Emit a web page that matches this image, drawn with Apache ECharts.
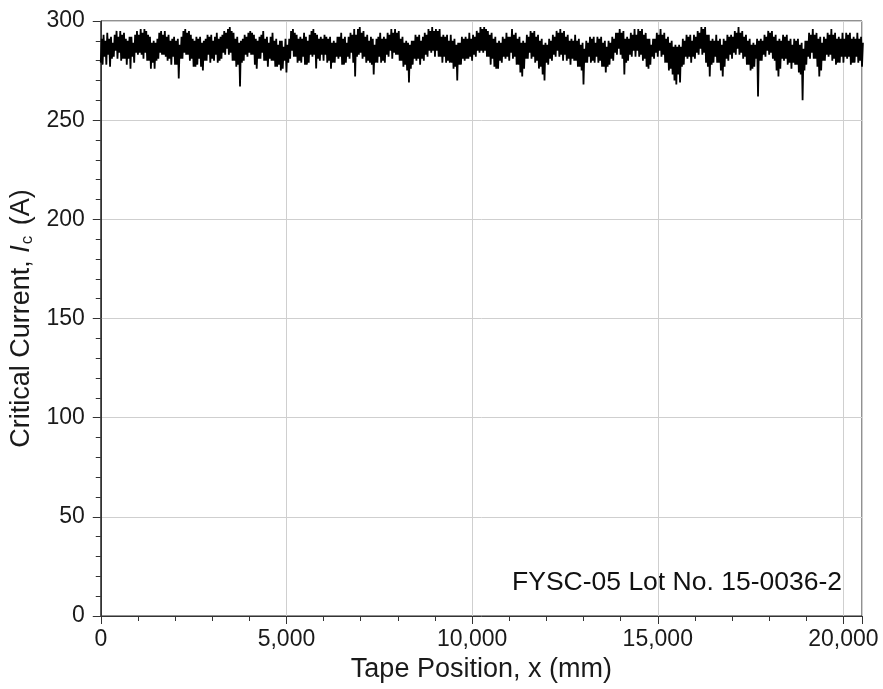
<!DOCTYPE html>
<html>
<head>
<meta charset="utf-8">
<script src="https://cdn.jsdelivr.net/npm/echarts@6/dist/echarts.min.js"></script>
<style>
html,body{margin:0;padding:0;background:#fff;}
#chart{width:883px;height:689px;}
</style>
</head>
<body>
<div id="chart"></div>
<script>
// Sample spacing along the tape (mm)
const sampleStepMm = 50;
// Upper readings of critical current (A) in each 50 mm slot, 0 .. 20,500 mm
const icUpper = [
291,293,290,294,291,292,289,293,295,292,295,293,294,291,290,292,292,289,293,295,
293,296,294,296,295,293,292,289,290,289,291,294,295,293,295,292,293,290,291,292,
290,291,288,292,295,296,294,295,293,291,290,292,291,292,289,290,291,293,292,293,
290,292,294,291,292,293,295,294,296,297,295,294,291,292,289,290,291,293,292,294,
295,294,293,291,290,292,293,295,291,292,289,292,294,290,291,288,290,290,287,291,
288,291,295,296,294,293,291,292,291,294,292,290,293,295,296,294,293,291,292,291,
293,292,291,292,289,290,289,292,292,294,291,292,289,292,294,293,296,293,296,297,
294,295,292,293,290,292,291,288,291,292,294,291,292,291,294,293,296,294,296,294,
295,291,292,289,290,289,288,290,290,293,292,293,290,292,294,293,296,295,297,295,
296,295,296,292,293,292,293,290,293,290,291,288,289,289,292,291,292,291,294,291,
293,292,295,294,297,296,297,296,295,293,294,291,292,289,290,289,292,291,294,292,
292,296,293,294,291,292,289,290,289,293,292,295,294,295,292,293,290,291,288,289,
288,291,290,293,292,295,294,296,294,295,292,293,290,291,290,293,290,291,288,289,
286,290,289,292,291,292,289,292,291,292,289,290,287,290,289,292,291,294,294,296,
294,295,291,292,291,294,293,296,293,296,295,296,293,294,291,291,288,291,291,294,
293,296,293,294,291,292,289,290,287,288,287,288,287,291,290,293,292,293,290,293,
292,295,294,297,296,297,293,293,290,291,290,293,290,291,288,291,290,293,292,293,
292,295,294,297,294,295,292,293,290,291,288,289,288,291,290,291,290,293,292,295,
294,295,292,293,290,291,290,293,292,293,290,291,288,291,290,291,288,289,286,290,
290,294,293,296,293,294,291,292,289,292,291,294,293,296,293,294,291,292,291,294,
291,294,293,294,291,292,291,294,291,292,289
];
// Lower readings of critical current (A) in each 50 mm slot, 0 .. 20,500 mm
const icLower = [
279,278,282,278,283,277,281,282,285,281,284,280,281,281,278,281,276,282,279,284,
283,284,283,281,284,280,280,276,279,276,280,281,284,283,283,282,280,281,278,282,
278,278,271,281,281,284,283,283,280,281,277,277,278,281,277,275,280,280,283,279,
281,280,283,279,280,281,284,283,286,283,284,280,280,277,278,267,279,280,283,282,
284,283,283,278,276,281,281,284,280,280,277,281,280,280,277,277,278,275,276,280,
274,279,281,285,282,282,279,280,279,282,278,278,279,283,282,283,276,281,280,283,
280,283,279,280,276,279,279,282,281,282,278,278,279,282,281,284,279,272,282,283,
284,281,282,279,280,279,278,273,279,279,282,279,280,279,283,282,285,281,284,283,
283,280,280,277,278,275,269,276,278,281,280,281,278,281,280,283,282,285,284,285,
282,285,282,282,279,282,279,280,279,279,276,277,270,278,278,281,280,281,281,282,
280,283,282,285,284,285,284,285,282,282,278,281,277,276,276,280,279,282,281,282,
280,284,281,282,278,278,274,272,276,281,281,284,281,282,279,280,276,277,273,270,
279,278,281,280,283,282,285,282,283,280,283,280,281,278,281,280,280,277,277,275,
268,279,279,282,279,280,279,282,279,280,277,277,274,277,278,281,280,284,283,286,
283,281,273,279,280,283,282,285,282,285,282,283,280,281,277,276,278,282,281,284,
282,285,282,283,279,279,275,276,273,270,268,273,269,277,278,282,281,282,279,282,
281,284,283,286,283,284,279,277,272,278,279,282,279,279,275,272,277,281,280,283,
281,284,283,286,283,284,281,282,278,278,275,276,277,281,262,280,280,283,282,285,
283,284,281,280,275,272,276,281,280,281,278,279,276,279,278,278,274,273,260,275,
278,282,281,284,281,281,277,272,275,280,280,283,282,283,280,281,278,279,279,282,
279,282,281,282,278,279,279,282,279,280,277
];
const xTicks = [0, 5000, 10000, 15000, 20000];
const yTicks = [0, 50, 100, 150, 200, 250, 300];
const annotation = 'FYSC-05 Lot No. 15-0036-2';

// Trace: in every slot the measurement swings from its low to its high reading
const seriesData = [];
icLower.forEach((lo, i) => {
  seriesData.push([i * sampleStepMm, lo]);
  seriesData.push([i * sampleStepMm + sampleStepMm / 2, icUpper[i]]);
});

const chart = echarts.init(document.getElementById('chart'), null, {renderer: 'canvas'});
const font = 'Liberation Sans';
const axisColor = '#333';
chart.setOption({
  animation: false,
  backgroundColor: '#fff',
  grid: {left: 99, top: 21, width: 763, height: 595, show: true, borderColor: '#222', borderWidth: 1, backgroundColor: 'transparent'},
  xAxis: [{
    type: 'value', min: 0, max: 20500, interval: 5000,
    axisLine: {lineStyle: {color: axisColor, width: 1}},
    axisTick: {length: 8, lineStyle: {color: axisColor}},
    axisLabel: {
      fontFamily: font, fontSize: 23, color: '#1a1a1a', margin: 12,
      formatter: v => xTicks.includes(v) ? v.toLocaleString('en-US') : ''
    },
    splitLine: {show: true, lineStyle: {color: '#cfcfcf', width: 1}},
    name: 'Tape Position, x (mm)', nameLocation: 'middle', nameGap: 40,
    nameTextStyle: {fontFamily: font, fontSize: 27, color: '#1a1a1a'}
  }, {
    type: 'value', min: 0, max: 20500, interval: 1000, position: 'bottom',
    axisLine: {show: false},
    axisTick: {show: true, length: 5, lineStyle: {color: axisColor}},
    axisLabel: {show: false}, splitLine: {show: false}
  }],
  yAxis: {
    type: 'value', min: 0, max: 300, interval: 50,
    axisLine: {show: true, lineStyle: {color: axisColor, width: 1}},
    axisTick: {show: true, length: 8, lineStyle: {color: axisColor}},
    minorTick: {show: true, splitNumber: 5, length: 5, lineStyle: {color: axisColor}},
    axisLabel: {fontFamily: font, fontSize: 23, color: '#1a1a1a', margin: 16,
      formatter: v => yTicks.includes(v) ? String(v) : ''},
    splitLine: {show: true, lineStyle: {color: '#cfcfcf', width: 1}},
    name: 'Critical Current, {it|I}{sub|c} (A)', nameLocation: 'middle', nameGap: 57,
    nameTextStyle: {fontFamily: font, fontSize: 27, color: '#1a1a1a',
      rich: {
        it: {fontFamily: font, fontSize: 27, fontStyle: 'italic', color: '#1a1a1a'},
        sub: {fontFamily: font, fontSize: 17, color: '#1a1a1a', padding: [11, 3, 0, 1]}
      }}
  },
  graphic: [{
    type: 'text', right: 41, top: 569,
    style: {text: annotation, font: '26.5px "Liberation Sans"', fill: '#111'}
  }],
  series: [{
    type: 'line', xAxisIndex: 0, data: seriesData, showSymbol: false, sampling: null,
    lineStyle: {color: '#000', width: 1.8}, z: 5
  }]
});
</script>
</body>
</html>
